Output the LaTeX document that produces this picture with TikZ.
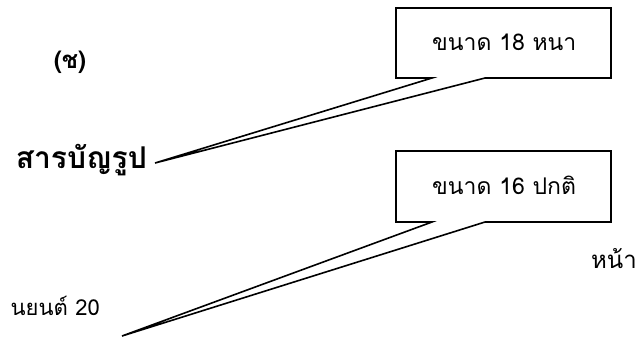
\documentclass[tikz,border=0pt]{standalone}
\usepackage{fontspec}
\newfontfamily\thaifont[Script=Thai]{Loma}
\tikzset{
  txt/.style={inner sep=0pt, font=\thaifont},
  callout/.style={draw=black, line width=1.6pt, line join=miter, fill=white},
}
\begin{document}
\begin{tikzpicture}[x=1pt,y=-1pt]
\useasboundingbox (0,0) rectangle (644,341);
% callout 1
\coordinate (tip1) at (155,163);
\coordinate (b1nw) at (396,8);
\coordinate (b1se) at (611,78);
\draw[callout] (b1nw) -- (b1nw -| b1se) -- (b1se) -- (485,78) -- (tip1) -- (432,78) -- (b1nw |- b1se) -- cycle;
\node[txt, font=\thaifont\fontsize{23}{27}\selectfont, anchor=base west] (t1) at (432,50) {ขนาด 18 หนา};
% callout 2
\coordinate (tip2) at (122,336);
\coordinate (b2nw) at (396,151);
\coordinate (b2se) at (611,222);
\draw[callout] (b2nw) -- (b2nw -| b2se) -- (b2se) -- (485,222) -- (tip2) -- (432,222) -- (b2nw |- b2se) -- cycle;
\node[txt, font=\thaifont\fontsize{23}{27}\selectfont, anchor=base west] (t2) at (432,194) {ขนาด 16 ปกติ};
% texts
\node[txt, font=\thaifont\bfseries\fontsize{24}{28}\selectfont] (ch) at (70,62) {(ช)};
\node[txt, font=\thaifont\bfseries\fontsize{30}{34}\selectfont, anchor=base east] (title) at (147,168) {สารบัญรูป};
\node[txt, font=\thaifont\fontsize{24}{28}\selectfont, anchor=base east] (page) at (637,268) {หน้า};
\node[txt, font=\thaifont\fontsize{22}{26}\selectfont, anchor=base east] (film) at (100,315) {นยนต์ 20};
\end{tikzpicture}
\end{document}
